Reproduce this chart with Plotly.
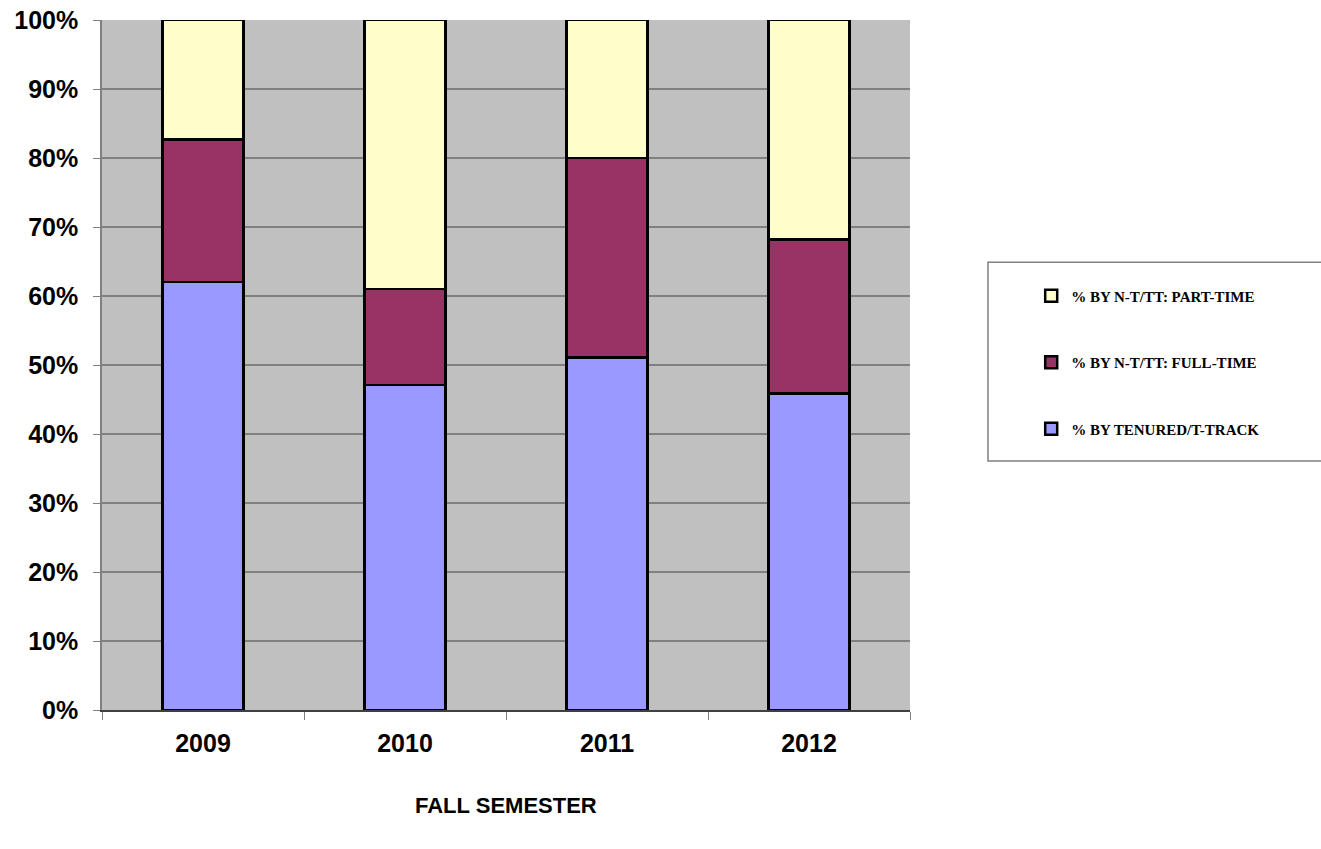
import plotly.graph_objects as go

years = ["2009", "2010", "2011", "2012"]
tenured = [62.0, 47.1, 51.1, 45.9]
full_time = [20.7, 13.9, 28.9, 22.3]
part_time = [17.3, 39.0, 20.0, 31.8]

series_names = ["% BY TENURED/T-TRACK", "% BY N-T/TT: FULL-TIME", "% BY N-T/TT: PART-TIME"]
series_values = [tenured, full_time, part_time]
colors = ["#9999FF", "#993366", "#FFFFCC"]
legend_ranks = [3, 2, 1]

fig = go.Figure()
for i, (name, vals, col) in enumerate(zip(series_names, series_values, colors)):
    fig.add_trace(go.Bar(
        x=years, y=vals, name=name, legendgroup=f"g{i}", legendrank=legend_ranks[i],
        marker=dict(color=col, line=dict(color="black", width=2.5)),
    ))

fig.update_layout(
    barmode="stack",
    bargap=0.6,
    width=1321, height=849,
    margin=dict(l=102, r=411, t=20, b=139),
    plot_bgcolor="#C0C0C0",
    paper_bgcolor="white",
    font=dict(family="Liberation Sans, Arial", color="black"),
    legend=dict(
        x=1.150, y=0.624, xanchor="left", yanchor="top",
        traceorder="grouped", tracegroupgap=44,
        font=dict(family="Liberation Serif, Times New Roman", size=15, weight="bold", color="black"),
        bgcolor="rgba(0,0,0,0)", itemwidth=30,
    ),
    shapes=[dict(type="rect", xref="paper", yref="paper",
                 x0=1.0965, x1=1.52, y0=0.361, y1=0.649,
                 line=dict(color="#808080", width=1.5), fillcolor="white", layer="below")],
    annotations=[dict(text="FALL SEMESTER", xref="paper", yref="paper", x=0.5, y=-0.138,
                      yanchor="middle", showarrow=False,
                      font=dict(size=22, weight="bold", family="Liberation Sans, Arial"))],
)
fig.update_yaxes(
    range=[0, 100], dtick=10, ticksuffix="%", automargin=False,
    showgrid=True, gridcolor="#808080", gridwidth=1.5,
    showline=True, linecolor="#808080", linewidth=1.5,
    ticks="outside", ticklen=7, tickcolor="#808080",
    tickfont=dict(size=25, weight="bold"), ticklabelstandoff=10,
    zeroline=False,
)
fig.update_xaxes(
    automargin=False,
    showline=True, linecolor="#404040", linewidth=1.5,
    ticks="outside", ticklen=8, tickcolor="#808080", tickson="boundaries",
    tickfont=dict(size=25, weight="bold"), ticklabelstandoff=10,
    showgrid=False,
)
fig.write_html("out.html", config={"displayModeBar": False},
               post_script="document.body.style.margin='0';document.body.style.overflow='hidden';")
